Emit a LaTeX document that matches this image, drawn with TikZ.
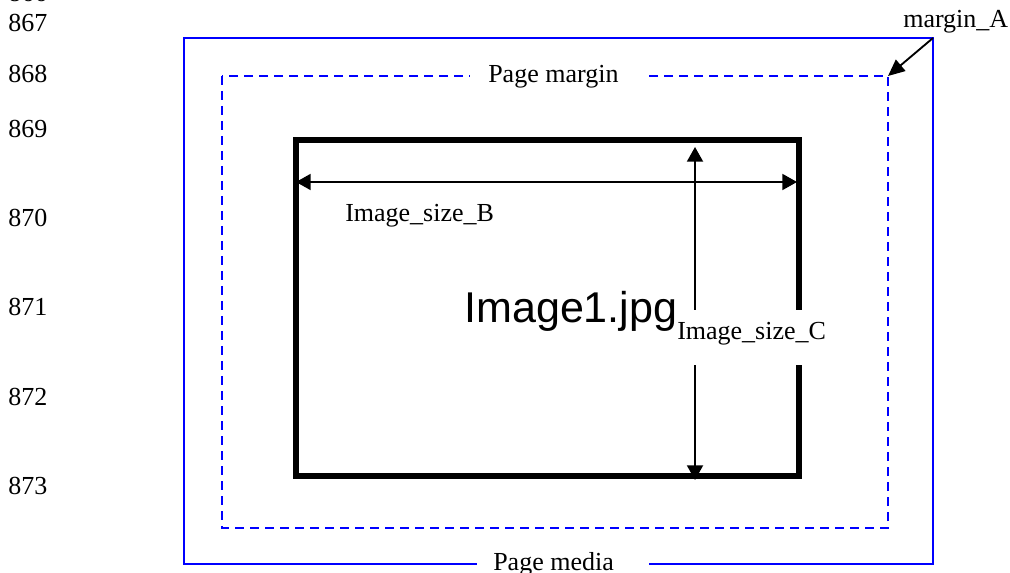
\documentclass[tikz,border=0pt]{standalone}
\usepackage{fontspec}
\setmainfont{Liberation Serif}
\newfontfamily\arialf{Liberation Sans}
\usetikzlibrary{arrows.meta}
\begin{document}
\begin{tikzpicture}[x=0.75pt,y=-0.75pt,
  lbl/.style={inner sep=0pt, anchor=base west, font=\fontsize{19.5}{22}\selectfont},
  bigl/.style={inner sep=0pt, anchor=base west, font=\arialf\fontsize{32.3}{36}\selectfont},
  media/.style={draw=blue, line width=1.5pt},
  marg/.style={draw=blue, line width=1.5pt, dash pattern=on 6.75pt off 4.5pt},
  imgbox/.style={draw=black, line width=4.5pt},
  dim/.style={draw=black, line width=1.4pt, {Triangle[length=11pt,width=12pt]}-{Triangle[length=11pt,width=12pt]}},
  ptr/.style={draw=black, line width=1.4pt, -{Triangle[length=12.5pt,width=11pt]}},
  gap/.style={fill=white}
]
\useasboundingbox (0,0) rectangle (1010,573);
\clip (0,0) rectangle (1010,573);

% line numbers
\node[lbl] (n866) at (8,1.5) {866};
\node[lbl] (n867) at (8,32) {867};
\node[lbl] (n868) at (8,83) {868};
\node[lbl] (n869) at (8,138) {869};
\node[lbl] (n870) at (8,227) {870};
\node[lbl] (n871) at (8,316) {871};
\node[lbl] (n872) at (8,406) {872};
\node[lbl] (n873) at (8,494) {873};

% corners
\coordinate (mediaTL) at (184,38);
\coordinate (mediaTR) at (933,38);
\coordinate (mediaBR) at (933,564);
\coordinate (margTL) at (222,76);
\coordinate (margTR) at (888,76);
\coordinate (margBR) at (888,528);
\coordinate (imgTL) at (295.5,140);
\coordinate (imgBR) at (799,476);

% page media and margin
\draw[media] (mediaTL) rectangle (mediaBR);
\draw[marg] (margTL) rectangle (margBR);
\fill[gap] (470,70) rectangle (645,82);
\fill[gap] (477,558) rectangle (649,573);
\node[lbl] (pmargin) at (488,83) {Page margin};
\node[lbl] (pmedia) at (493,570.5) {Page media};

% margin_A
\node[lbl] (margA) at (903,28) {margin\_A};
\draw[ptr] (mediaTR) -- (margTR);

% image box
\draw[imgbox] (imgTL) rectangle (imgBR);

% dimension arrows
\coordinate (bL) at (296,182);
\coordinate (bR) at (797,182);
\coordinate (cT) at (695,147);
\coordinate (cB) at (695,480);
\draw[dim] (bL) -- (bR);
\draw[dim] (cT) -- (cB);

\node[lbl] (sizeB) at (345,222) {Image\_size\_B};
\node[bigl] (img1) at (464,323) {Image1.jpg};
\fill[gap] (681,310) rectangle (830,365);
\node[lbl] (sizeC) at (677,340) {Image\_size\_C};
\end{tikzpicture}
\end{document}
